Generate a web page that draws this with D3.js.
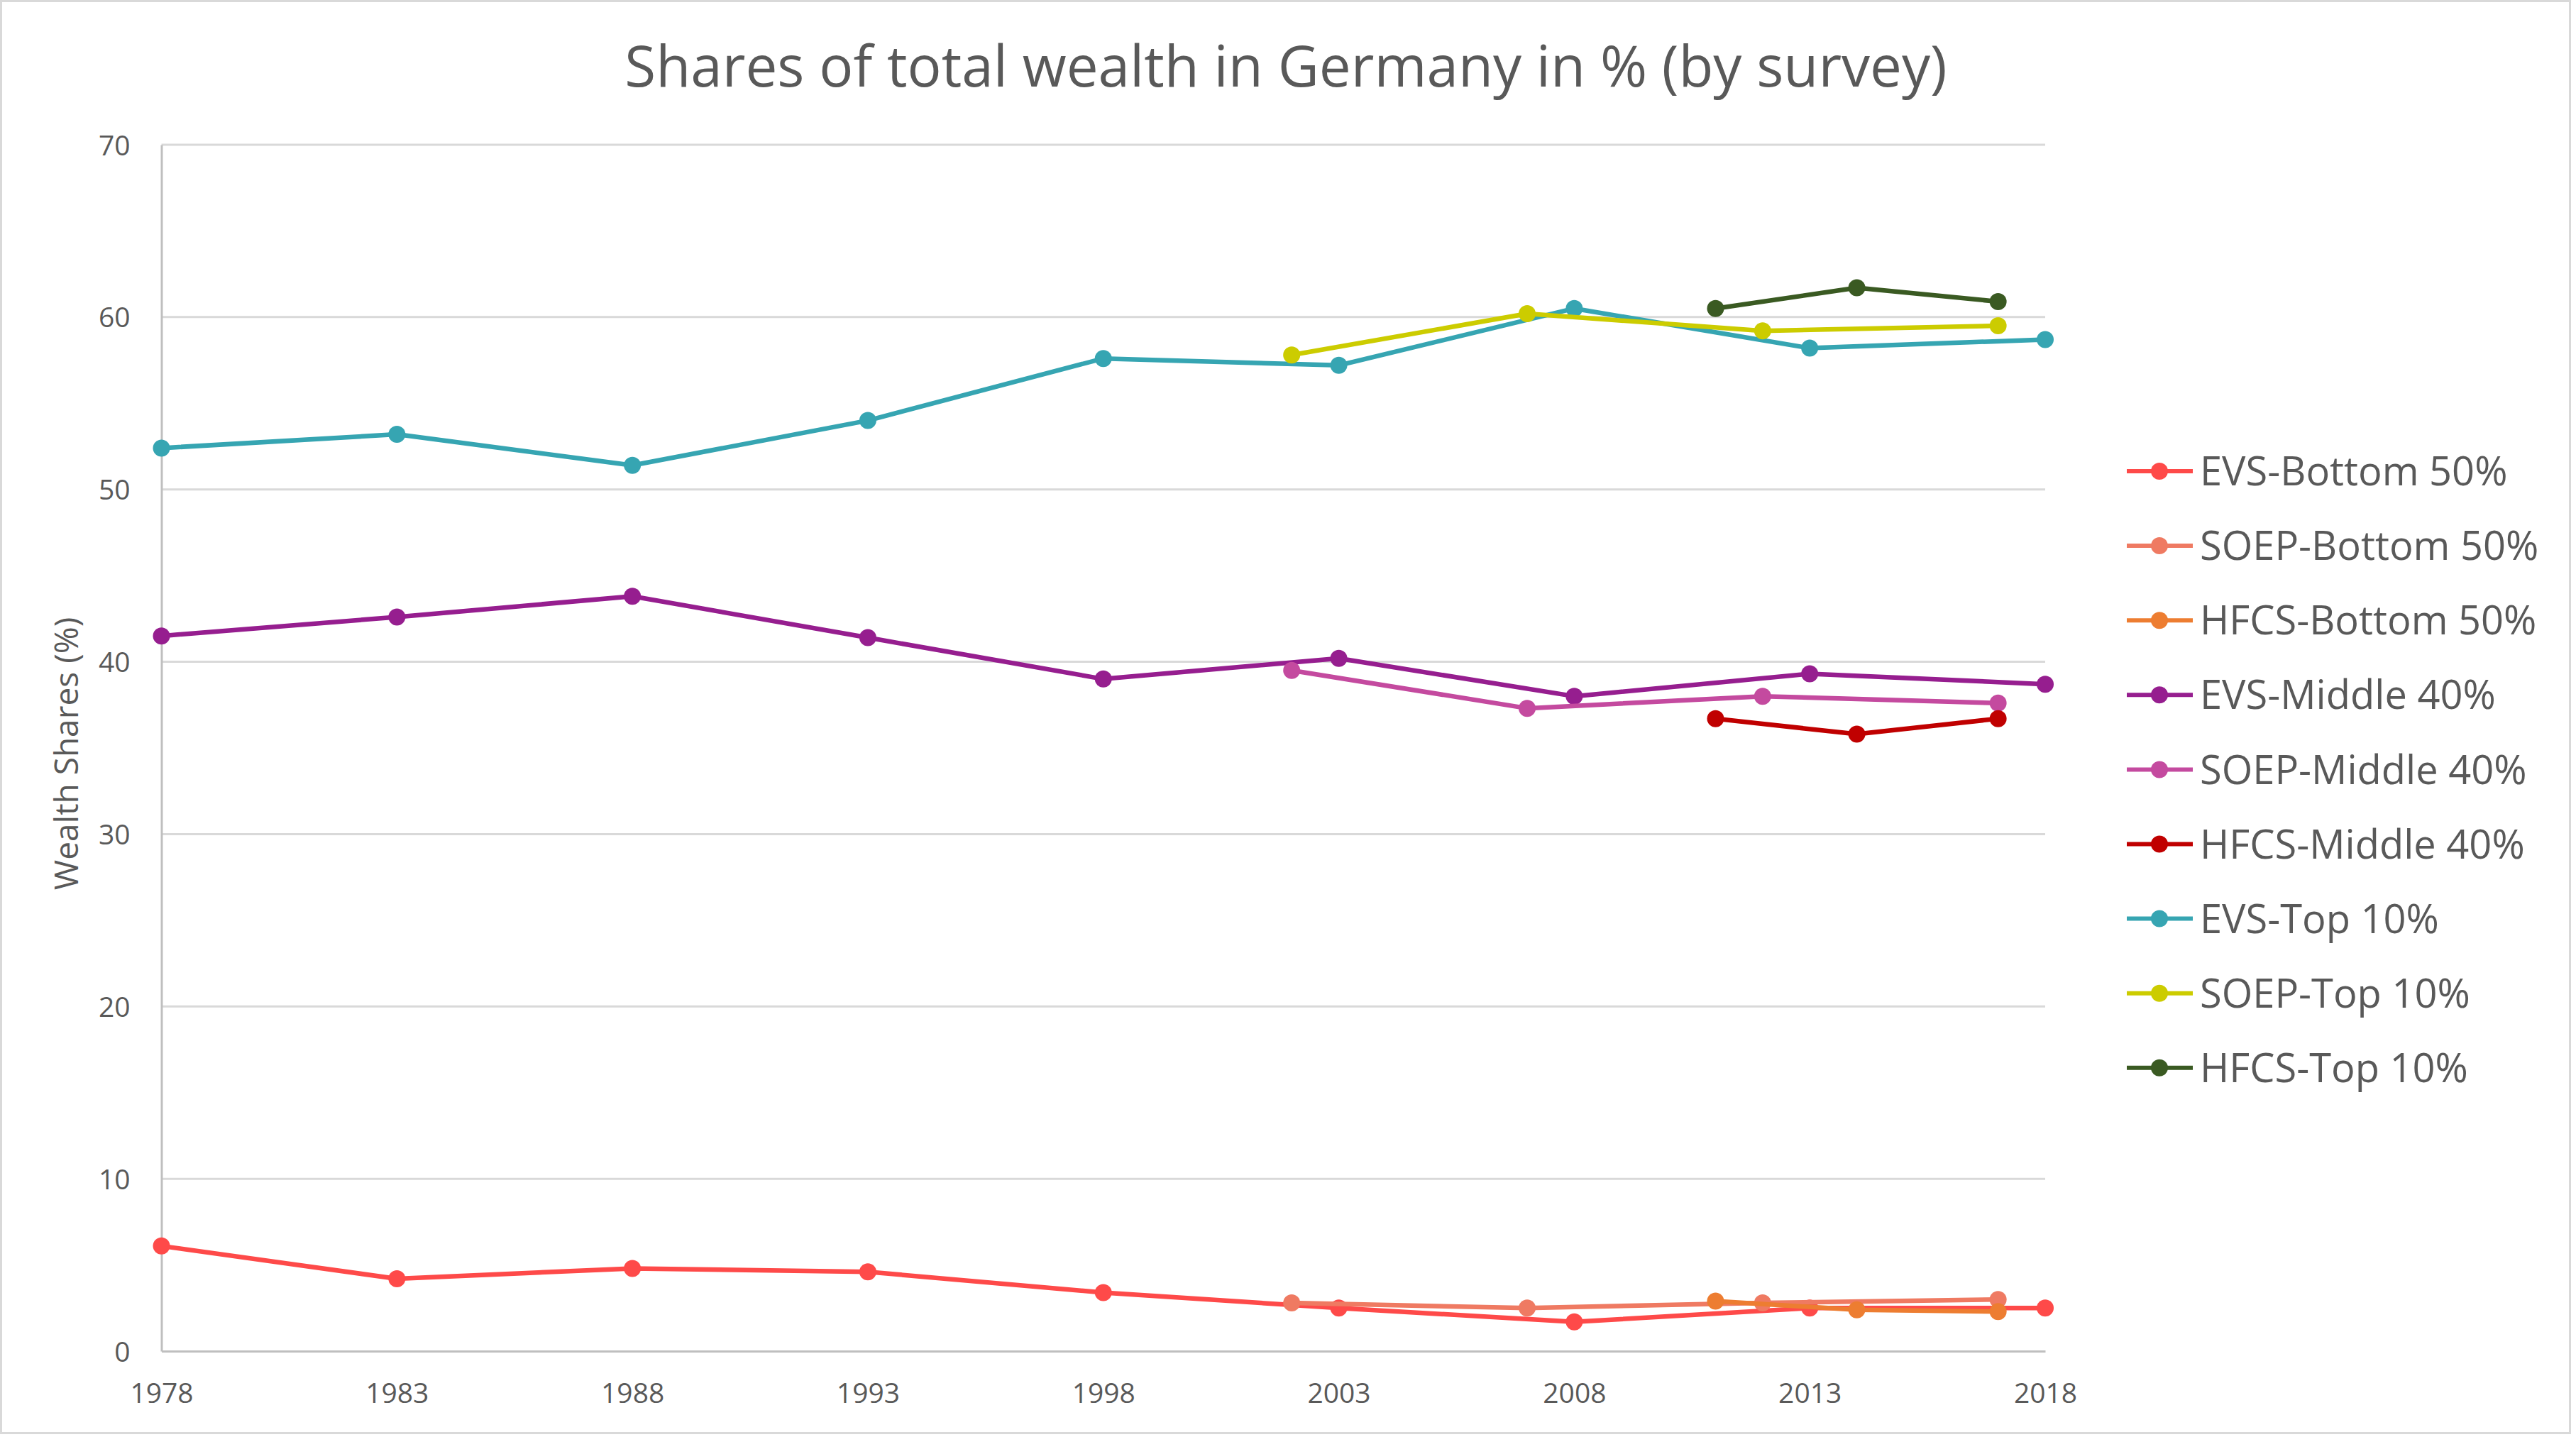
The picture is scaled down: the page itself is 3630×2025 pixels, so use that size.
<!DOCTYPE html>
<html>
<head>
<meta charset="utf-8">
<script src="https://cdn.jsdelivr.net/npm/d3@7"></script>
<style>
  html, body { margin: 0; padding: 0; background: #ffffff; }
  svg { display: block; }
  text { font-family: "Open Sans", "Liberation Sans", sans-serif; fill: #595959; }
</style>
</head>
<body>
<svg id="chart" width="3630" height="2025"></svg>
<script>
// ---------------- DATA ----------------
const titleText = "Shares of total wealth in Germany in % (by survey)";
const yAxisTitle = "Wealth Shares (%)";

const evsYears  = [1978, 1983, 1988, 1993, 1998, 2003, 2008, 2013, 2018];
const soepYears = [2002, 2007, 2012, 2017];
const hfcsYears = [2011, 2014, 2017];

const evsBottom50  = [6.1, 4.2, 4.8, 4.6, 3.4, 2.5, 1.7, 2.5, 2.5];
const soepBottom50 = [2.8, 2.5, 2.8, 3.0];
const hfcsBottom50 = [2.9, 2.4, 2.3];

const evsMiddle40  = [41.5, 42.6, 43.8, 41.4, 39.0, 40.2, 38.0, 39.3, 38.7];
const soepMiddle40 = [39.5, 37.3, 38.0, 37.6];
const hfcsMiddle40 = [36.7, 35.8, 36.7];

const evsTop10  = [52.4, 53.2, 51.4, 54.0, 57.6, 57.2, 60.5, 58.2, 58.7];
const soepTop10 = [57.8, 60.2, 59.2, 59.5];
const hfcsTop10 = [60.5, 61.7, 60.9];

const xTickValues = [1978, 1983, 1988, 1993, 1998, 2003, 2008, 2013, 2018];
const yTickValues = [0, 10, 20, 30, 40, 50, 60, 70];

const seriesNames = [
  "EVS-Bottom 50%", "SOEP-Bottom 50%", "HFCS-Bottom 50%",
  "EVS-Middle 40%", "SOEP-Middle 40%", "HFCS-Middle 40%",
  "EVS-Top 10%", "SOEP-Top 10%", "HFCS-Top 10%"
];
const seriesColors = [
  "#FE4A49", "#EF7A62", "#ED7D31",
  "#961E8F", "#C44A9F", "#C00000",
  "#36A5B2", "#CCCC00", "#3A5A22"
];

// build series table
const seriesYears  = [evsYears, soepYears, hfcsYears, evsYears, soepYears, hfcsYears, evsYears, soepYears, hfcsYears];
const seriesValues = [evsBottom50, soepBottom50, hfcsBottom50, evsMiddle40, soepMiddle40, hfcsMiddle40, evsTop10, soepTop10, hfcsTop10];
const series = seriesNames.map((name, i) => ({
  name, color: seriesColors[i],
  points: seriesYears[i].map((yr, j) => ({ year: yr, value: seriesValues[i][j] }))
}));

// ---------------- LAYOUT ----------------
const W = 3630, H = 2025;
const plot = { left: 227.5, right: 2882, top: 204, bottom: 1904 };

const svg = d3.select("#chart");

// outer chart border
svg.append("rect")
  .attr("x", 1.5).attr("y", 1.5)
  .attr("width", 3620).attr("height", 2018)
  .attr("fill", "#ffffff")
  .attr("stroke", "#d9d9d9").attr("stroke-width", 3);

const x = d3.scaleLinear().domain([1978, 2018]).range([plot.left, plot.right]);
const y = d3.scaleLinear().domain([0, 70]).range([plot.bottom, plot.top]);

// gridlines
svg.append("g").selectAll("line")
  .data(yTickValues.filter(d => d > 0))
  .join("line")
  .attr("x1", plot.left).attr("x2", plot.right)
  .attr("y1", d => y(d)).attr("y2", d => y(d))
  .attr("stroke", "#d9d9d9").attr("stroke-width", 3);

// axes
const xAxis = svg.append("g")
  .attr("transform", `translate(0,${plot.bottom})`)
  .call(d3.axisBottom(x).tickValues(xTickValues).tickFormat(d3.format("d")).tickSize(0));
xAxis.select(".domain").attr("stroke", "#bfbfbf").attr("stroke-width", 3);
xAxis.selectAll("text")
  .attr("y", 73).attr("dy", 0)
  .style("font-size", "39px").style("fill", "#595959")
  .style("font-family", '"Open Sans", sans-serif');

const yAxis = svg.append("g")
  .attr("transform", `translate(${plot.left},0)`)
  .call(d3.axisLeft(y).tickValues(yTickValues).tickSize(0));
yAxis.select(".domain").attr("stroke", "#bfbfbf").attr("stroke-width", 3);
yAxis.selectAll("text")
  .attr("x", -44).attr("dy", "0.36em")
  .style("font-size", "39px").style("fill", "#595959")
  .style("font-family", '"Open Sans", sans-serif');

// title
svg.append("text")
  .attr("x", 1812).attr("y", 122)
  .attr("text-anchor", "middle")
  .style("font-size", "80px")
  .text(titleText);

// y axis title
svg.append("text")
  .attr("transform", `translate(110,1062) rotate(-90)`)
  .attr("text-anchor", "middle")
  .style("font-size", "46px")
  .text(yAxisTitle);

// series
const line = d3.line().x(d => x(d.year)).y(d => y(d.value));
const gSeries = svg.append("g");
series.forEach(s => {
  const g = gSeries.append("g");
  g.append("path")
    .datum(s.points)
    .attr("d", line)
    .attr("fill", "none")
    .attr("stroke", s.color)
    .attr("stroke-width", 6.5)
    .attr("stroke-linejoin", "round");
  g.selectAll("circle")
    .data(s.points)
    .join("circle")
    .attr("cx", d => x(d.year))
    .attr("cy", d => y(d.value))
    .attr("r", 12)
    .attr("fill", s.color);
});

// legend
const legend = svg.append("g");
const legY0 = 664, legStep = 105.1;
series.forEach((s, i) => {
  const g = legend.append("g").attr("transform", `translate(0,${legY0 + i * legStep})`);
  g.append("line")
    .attr("x1", 2997).attr("x2", 3090)
    .attr("y1", 0).attr("y2", 0)
    .attr("stroke", s.color).attr("stroke-width", 6);
  g.append("circle")
    .attr("cx", 3043).attr("cy", 0).attr("r", 12)
    .attr("fill", s.color);
  g.append("text")
    .attr("x", 3100).attr("y", 0).attr("dy", "0.36em")
    .style("font-size", "56px")
    .text(s.name);
});
</script>
</body>
</html>
